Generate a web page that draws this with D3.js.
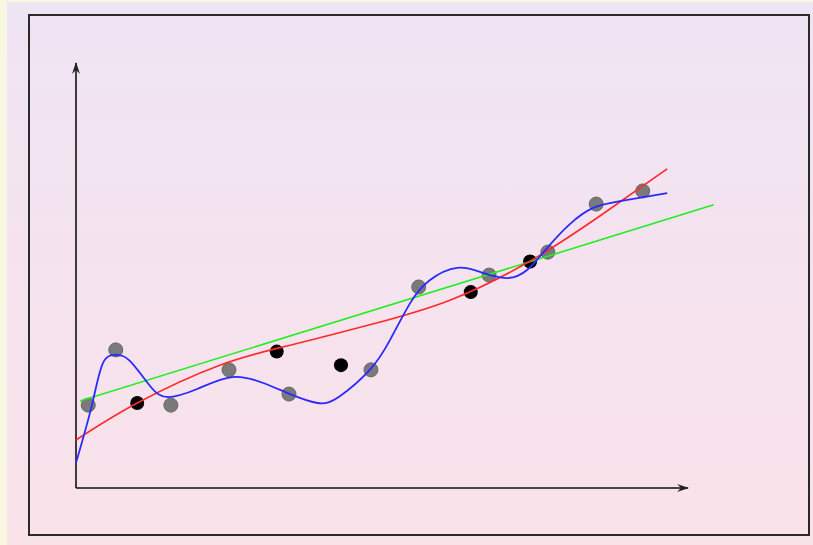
<!DOCTYPE html>
<html>
<head>
<meta charset="utf-8">
<script src="https://cdn.jsdelivr.net/npm/d3@7"></script>
<style>
  html, body { margin: 0; padding: 0; background: #f8f8e2; }
  svg { display: block; }
</style>
</head>
<body>
<script>
// Training samples (grey) and held-out samples (black)
const trainX = [0.20, 0.65, 1.55, 2.50, 3.48, 4.82, 5.60, 6.75, 7.71, 8.50, 9.26];
const trainY = [1.95, 3.25, 1.95, 2.78, 2.21, 2.78, 4.73, 5.01, 5.55, 6.68, 6.99];
const testX = [1.00, 3.28, 4.33, 6.45, 7.42];
const testY = [2.00, 3.21, 2.89, 4.61, 5.33];

// Straight-line model: endpoints of the fitted segment
const linearX = [0.065, 10.42];
const linearY = [2.047, 6.663];

// Moderate-degree model, sampled along its length
const goodX = [0.00, 1.00, 2.35, 3.50, 4.80, 6.11, 7.42, 8.56, 9.66];
const goodY = [1.13, 2.00, 2.89, 3.36, 3.84, 4.42, 5.34, 6.40, 7.51];

// High-degree (overfitted) model, sampled along its length
const overX = [0.00, 0.26, 0.44, 0.65, 0.88, 1.21, 1.50, 1.98, 2.55, 3.06, 3.50, 3.95,
               4.31, 4.80, 5.13, 5.46, 5.78, 6.23, 6.65, 7.04, 7.37, 7.70, 8.07, 8.45, 8.89, 9.66];
const overY = [0.59, 1.95, 2.94, 3.13, 2.99, 2.40, 2.14, 2.33, 2.61, 2.47, 2.21, 2.00,
               2.16, 2.78, 3.48, 4.35, 4.89, 5.18, 5.06, 4.94, 5.13, 5.65, 6.21, 6.59, 6.75, 6.94];

const W = 813, H = 545;
const svg = d3.select("body").append("svg").attr("width", W).attr("height", H);

const defs = svg.append("defs");
const grad = defs.append("linearGradient").attr("id", "bg").attr("x1", 0).attr("y1", 0).attr("x2", 0).attr("y2", 1);
grad.append("stop").attr("offset", "0%").attr("stop-color", "#efe4f4");
grad.append("stop").attr("offset", "100%").attr("stop-color", "#fae2e9");

defs.append("marker")
  .attr("id", "arrow").attr("viewBox", "0 0 12 10").attr("refX", 11).attr("refY", 5)
  .attr("markerWidth", 12).attr("markerHeight", 10).attr("markerUnits", "userSpaceOnUse")
  .attr("orient", "auto")
  .append("path").attr("d", "M0,1 L12,5 L0,9 L4,5 Z").attr("fill", "#222");

// Panel background and frame
svg.append("rect").attr("x", 7).attr("y", 2).attr("width", W - 7).attr("height", H - 2).attr("fill", "url(#bg)");
svg.append("rect").attr("x", 29).attr("y", 15).attr("width", 780).attr("height", 520)
  .attr("fill", "none").attr("stroke", "#2a2a2a").attr("stroke-width", 2);

const x = d3.scaleLinear().domain([0, 10]).range([76, 688]);
const y = d3.scaleLinear().domain([0, 10]).range([488, 63]);

// Axes with arrowheads, no ticks
const g = svg.append("g");
g.append("line")
  .attr("x1", x(0)).attr("y1", y(0)).attr("x2", x(10)).attr("y2", y(0))
  .attr("stroke", "#111").attr("stroke-width", 1.6).attr("marker-end", "url(#arrow)");
g.append("line")
  .attr("x1", x(0)).attr("y1", y(0)).attr("x2", x(0)).attr("y2", y(10))
  .attr("stroke", "#111").attr("stroke-width", 1.6).attr("marker-end", "url(#arrow)");

const zip = (xs, ys) => xs.map((v, i) => [v, ys[i]]);
const smooth = d3.line().x(d => x(d[0])).y(d => y(d[1])).curve(d3.curveNatural);
const straight = d3.line().x(d => x(d[0])).y(d => y(d[1]));

// Points first, fitted curves on top
svg.append("g").selectAll("circle.train").data(zip(trainX, trainY)).join("circle")
  .attr("class", "train")
  .attr("cx", d => x(d[0])).attr("cy", d => y(d[1])).attr("r", 7)
  .attr("fill", "#7a7a7a").attr("stroke", "#666").attr("stroke-width", 1);

svg.append("g").selectAll("circle.test").data(zip(testX, testY)).join("circle")
  .attr("class", "test")
  .attr("cx", d => x(d[0])).attr("cy", d => y(d[1])).attr("r", 7)
  .attr("fill", "#000");

svg.append("path").datum(zip(linearX, linearY)).attr("d", straight)
  .attr("fill", "none").attr("stroke", "#22ee22").attr("stroke-width", 1.6);

svg.append("path").datum(zip(goodX, goodY)).attr("d", smooth)
  .attr("fill", "none").attr("stroke", "#ff2a2a").attr("stroke-width", 1.6);

svg.append("path").datum(zip(overX, overY)).attr("d", smooth)
  .attr("fill", "none").attr("stroke", "#2a2aff").attr("stroke-width", 1.8);
</script>
</body>
</html>
